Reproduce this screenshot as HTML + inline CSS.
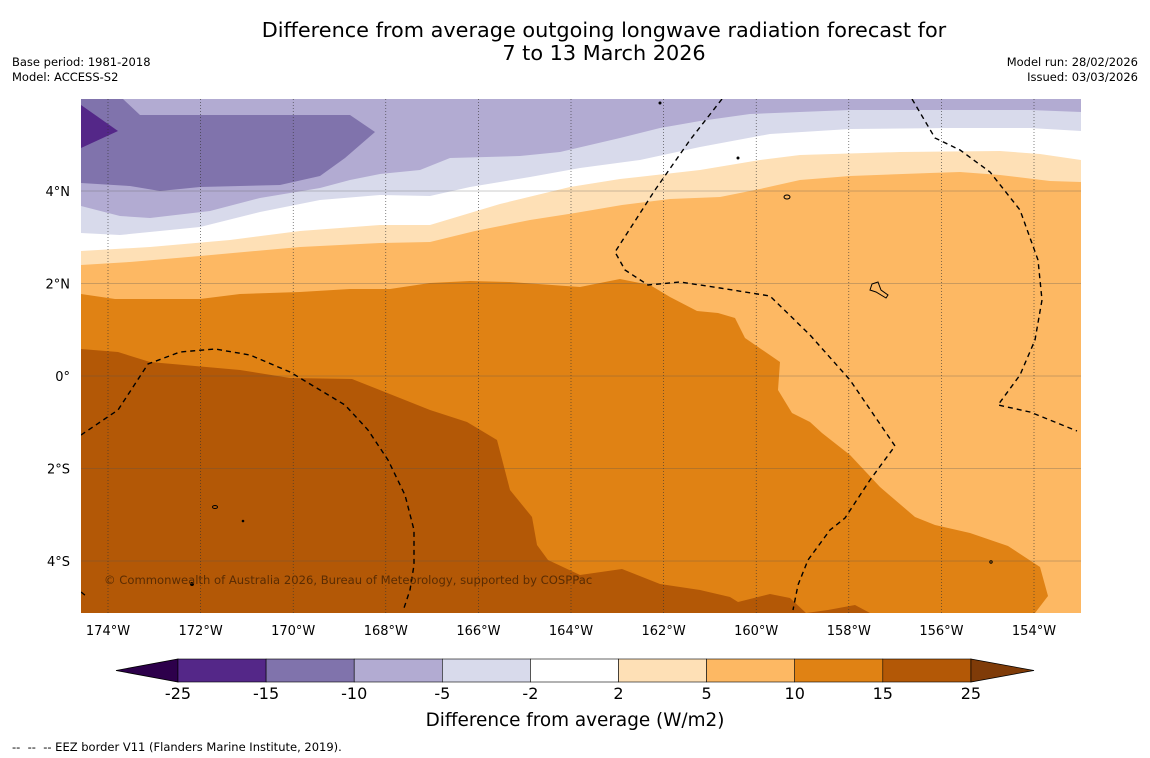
<!DOCTYPE html>
<html><head><meta charset="utf-8">
<style>
html,body{margin:0;padding:0;background:#fff;}
body{width:1150px;height:758px;position:relative;font-family:"DejaVu Sans","Liberation Sans",sans-serif;color:#000;overflow:hidden;}
.t{position:absolute;white-space:nowrap;}
</style></head>
<body>
<div class="t" style="left:0;width:1208px;text-align:center;top:19px;font-size:20.8px;line-height:23px;">Difference from average outgoing longwave radiation forecast for<br>7 to 13 March 2026</div>
<div class="t" style="left:12px;top:55px;font-size:11.5px;line-height:15px;">Base period: 1981-2018<br>Model: ACCESS-S2</div>
<div class="t" style="right:12px;top:55px;font-size:11.5px;line-height:15px;text-align:right;">Model run: 28/02/2026<br>Issued: 03/03/2026</div>
<div class="t" style="left:12px;top:740px;font-size:11.5px;">--&nbsp; --&nbsp; -- EEZ border V11 (Flanders Marine Institute, 2019).</div>

<svg id="map" width="1150" height="758" style="position:absolute;left:0;top:0;">
<defs><clipPath id="clip"><rect x="81" y="99" width="1000" height="514"/></clipPath></defs>
<g clip-path="url(#clip)">
<rect x="81" y="99" width="1000" height="514" fill="#b35806"/>
<polygon fill="#e08214" points="81,349 118,352 150,362 240,370 290,378 352,379 430,410 467,422 497,440 510,490 532,517 537,545 548,560 580,575 622,569 660,584 700,590 730,597 738,602 770,594 790,598 806,613 828,610 855,605 870,613 1081,613 1081,99 81,99"/>
<polygon fill="#fdb863" points="81,294 115,299 200,299 240,294 300,292 350,289 390,289 430,283 470,281 510,282 580,287 620,279 650,285 670,297 697,311 718,313 735,318 745,338 780,362 778,390 792,413 810,422 822,433 850,455 880,487 915,517 935,525 970,533 1008,546 1040,567 1048,596 1035,613 1081,613 1081,99 81,99"/>
<polygon fill="#fee0b6" points="81,265 130,262 200,256 300,247 380,243 430,242 475,231 530,220 575,213 622,205 670,199 720,197 760,189 800,180 850,176 930,173 960,172 1000,175 1050,181 1081,182 1081,99 81,99"/>
<polygon fill="#ffffff" points="81,251 150,247 230,240 300,231 380,225 430,225 500,204 570,187 620,179 700,170 760,160 800,155 900,152 1000,151 1040,154 1081,160 1081,99 81,99"/>
<polygon fill="#d8daeb" points="81,233 120,235 200,227 260,212 320,200 380,195 430,196 470,187 530,177 580,168 640,160 700,147 770,134 850,129 950,128 1030,128 1081,131 1081,99 81,99"/>
<polygon fill="#b2abd2" points="81,206 120,216 150,218 210,211 260,198 320,188 350,180 380,174 420,170 450,158 520,156 560,152 620,138 660,128 700,121 750,114 850,110 950,110 1030,110 1081,112 1081,99 81,99"/>
<polygon fill="#8073ac" points="81,183 130,186 160,191 200,187 280,185 320,176 345,158 375,132 350,115 140,115 123,99 81,99"/>
<polygon fill="#542788" points="81,105 118,131 81,148"/>
</g>
<g id="grid"></g>
<g clip-path="url(#clip)" fill="none" stroke="#000" stroke-width="1.4" stroke-dasharray="5,4">
<polyline points="81,435 118,410 148,364 180,352 215,349 250,355 290,372 320,390 345,405 368,430 388,460 405,495 414,530 414,565 410,590 404,608"/>
<polyline points="722,99 690,140 655,190 615,252 625,270 648,285 680,282 720,288 770,296 810,335 850,380 895,446 870,480 845,518 830,530 808,560 798,585 793,610"/>
<polyline points="912,99 935,138 960,150 990,172 1020,210 1038,260 1042,300 1035,340 1020,375 998,405 1030,412 1077,431"/>
<polyline points="81,592 86,596"/>
</g>
<g fill="none" stroke="#000" stroke-width="1">
<ellipse cx="787" cy="197" rx="3" ry="2"/>
<path d="M872,284 L878,282 L881,290 L888,295 L886,298 L876,292 L870,290 Z"/>
<ellipse cx="215" cy="507" rx="2.5" ry="1.5"/>
<circle cx="660" cy="103" r="1" fill="#000"/>
<circle cx="738" cy="158" r="1" fill="#000"/>
<circle cx="192" cy="584" r="1.5" fill="#000"/>
<circle cx="991" cy="562" r="1.2"/>
<circle cx="243" cy="521" r="0.8" fill="#000"/>
</g>
<text x="104" y="584" font-size="11.6" fill="#5a2c03" font-family="DejaVu Sans, sans-serif">© Commonwealth of Australia 2026, Bureau of Meteorology, supported by COSPPac</text>
<g id="axes" font-family="DejaVu Sans, sans-serif" font-size="13"></g>
<g id="cbar" font-family="DejaVu Sans, sans-serif"></g>
</svg>

<script>
const lonTicks = [-174,-172,-170,-168,-166,-164,-162,-160,-158,-156,-154];
const lonLabels = ["174°W","172°W","170°W","168°W","166°W","164°W","162°W","160°W","158°W","156°W","154°W"];
const latTicks = [4,2,0,-2,-4];
const latLabels = ["4°N","2°N","0°","2°S","4°S"];
const cbarLevels = [-25,-15,-10,-5,-2,2,5,10,15,25];
const cbarColors = ["#542788","#8073ac","#b2abd2","#d8daeb","#ffffff","#fee0b6","#fdb863","#e08214","#b35806"];
const cbarLabels = ["-25","-15","-10","-5","-2","2","5","10","15","25"];

const NS = "http://www.w3.org/2000/svg";
const xLon = lon => 108 + (lon + 174) * 46.3;
const yLat = lat => 191 + (4 - lat) * 46.25;
function mk(tag, attrs, parent){const e=document.createElementNS(NS,tag);for(const k in attrs)e.setAttribute(k,attrs[k]);parent.appendChild(e);return e;}

const grid = document.getElementById('grid');
const axes = document.getElementById('axes');
lonTicks.forEach((lon,i)=>{
  const x = xLon(lon);
  const l = mk('line',{x1:x,x2:x,y1:99,y2:613,stroke:'#333','stroke-width':0.6,'stroke-dasharray':'1,2'},grid);
  
  
  const t = mk('text',{x:x,y:635,'text-anchor':'middle'},axes);
  t.textContent = lonLabels[i];
  
  
});
latTicks.forEach((lat,i)=>{
  const y = yLat(lat);
  const l = mk('line',{x1:81,x2:1081,y1:y,y2:y,stroke:'#555','stroke-width':0.5,'stroke-opacity':0.6},grid);
  
  
  const t = mk('text',{x:70,y:y+5,'text-anchor':'end'},axes);
  t.textContent = latLabels[i];
  
  
});

const cbar = document.getElementById('cbar');
const cx0 = 178, cw = 88.1, cy = 659, ch = 23;
const tl = mk('polygon',{points:`116,${cy+ch/2} ${cx0},${cy} ${cx0},${cy+ch}`,fill:'#2d004b',stroke:'#000','stroke-width':0.8},cbar);


cbarColors.forEach((c,i)=>{
  const r = mk('rect',{x:cx0+i*cw,y:cy,width:cw,height:ch,fill:c,stroke:'#000','stroke-width':0.6},cbar);
  
  
});
const xe = cx0 + cbarColors.length*cw;
const tr = mk('polygon',{points:`${xe},${cy} 1034,${cy+ch/2} ${xe},${cy+ch}`,fill:'#7f3b08',stroke:'#000','stroke-width':0.8},cbar);


cbarLevels.forEach((v,i)=>{
  const t = mk('text',{x:cx0+i*cw,y:699,'text-anchor':'middle','font-size':16},cbar);
  t.textContent = cbarLabels[i];
  
  
});
const ct = mk('text',{x:575,y:726,'text-anchor':'middle','font-size':18.4},cbar);
ct.textContent = 'Difference from average (W/m2)';


</script>
</body></html>
